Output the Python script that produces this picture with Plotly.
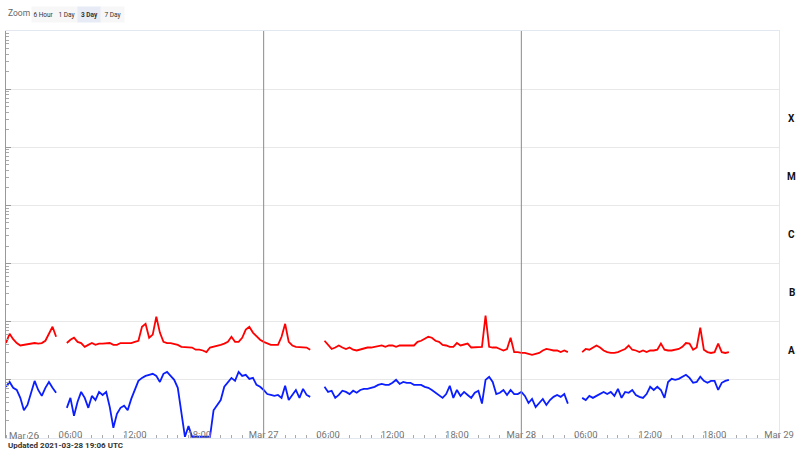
import pandas as pd
import plotly.graph_objects as go

# ---------------- data (flux in nW/m^2, 20-minute cadence per segment) ----------------
segment_starts = ["2021-03-26 00:00", "2021-03-26 05:40", "2021-03-27 05:40", "2021-03-28 05:40"]
cadence = "20min"

long_seg1 = [43, 62, 50, 43, 39, 40, 42, 43, 43, 42, 43, 47, 62, 82, 55]
long_seg2 = [43, 49, 53, 45, 43, 37, 40, 43, 40, 42, 42, 42, 43, 40, 40, 43, 43, 43, 43, 45,
             47, 82, 92, 53, 60, 122, 65, 45, 43, 43, 42, 40, 37, 37, 36, 36, 33, 33, 32, 30,
             36, 37, 39, 40, 42, 45, 55, 45, 45, 53, 73, 82, 65, 57, 49, 45, 43, 40, 40, 40,
             55, 92, 45, 39, 37, 37, 36, 36, 33]
long_seg3 = [47, 40, 34, 36, 39, 36, 34, 36, 33, 32, 33, 34, 36, 36, 37, 37, 39, 37, 39, 39,
             37, 39, 39, 40, 39, 39, 45, 47, 51, 55, 53, 47, 45, 40, 39, 37, 37, 43, 39, 40,
             42, 36, 36, 36, 37, 127, 37, 36, 36, 34, 32, 34, 53, 30, 30, 29, 29, 28, 27, 28,
             29, 32, 34, 33, 32, 32, 30, 32, 30]
long_seg4 = [30, 34, 33, 36, 39, 36, 32, 30, 29, 29, 30, 32, 34, 39, 33, 32, 30, 32, 30, 32,
             32, 33, 42, 33, 32, 32, 33, 34, 37, 43, 42, 33, 36, 79, 33, 30, 29, 30, 42, 30,
             29, 30]

short_seg1 = [7.6, 9.2, 7.3, 6.7, 4.9, 3.0, 3.7, 6.2, 9.6, 6.7, 5.3, 7.3, 9.2, 7.3, 6.0]
short_seg2 = [3.3, 4.9, 2.4, 4.2, 6.2, 4.9, 3.3, 5.3, 4.5, 6.2, 5.5, 6.2, 3.4, 1.5, 2.6, 3.3,
              3.6, 3.0, 4.7, 6.7, 9.6, 10.8, 11.7, 12.2, 12.7, 11.7, 9.2, 12.7, 13.7, 11.7,
              10.0, 7.3, 2.5, 1.05, 1.6, 1.05, 1.05, 1.05, 1.05, 1.05, 1.05, 3.0, 3.7, 4.5,
              7.6, 8.9, 10.8, 9.6, 13.7, 11.7, 12.2, 10.4, 10.8, 8.2, 7.6, 6.7, 5.7, 5.5, 5.3,
              5.5, 4.9, 7.9, 4.5, 5.5, 6.7, 4.9, 7.0, 5.5, 5.1]
short_seg3 = [7.6, 6.2, 6.5, 4.9, 5.5, 6.5, 6.2, 5.7, 6.5, 6.0, 6.7, 7.0, 7.0, 7.3, 7.6, 8.2,
              8.5, 8.2, 8.2, 8.9, 10.0, 8.5, 9.2, 8.9, 8.9, 8.2, 8.2, 8.2, 7.6, 7.3, 6.7, 6.0,
              5.3, 4.9, 5.7, 7.9, 4.9, 6.7, 5.3, 6.2, 5.5, 4.9, 6.0, 6.5, 3.9, 10.0, 11.3, 9.2,
              5.7, 6.0, 6.7, 5.5, 6.7, 5.7, 5.7, 6.2, 5.3, 4.0, 4.7, 3.4, 4.0, 4.7, 3.7, 4.5,
              5.1, 5.5, 5.1, 5.7, 3.9]
short_seg4 = [4.9, 4.5, 5.3, 4.9, 5.3, 5.7, 6.2, 5.7, 6.2, 5.3, 7.0, 4.9, 6.2, 6.0, 6.7, 5.5,
              5.1, 4.9, 5.7, 7.6, 6.7, 7.6, 6.7, 4.9, 9.2, 10.4, 10.0, 10.4, 11.3, 12.2, 10.8,
              8.9, 9.2, 11.3, 9.6, 8.9, 9.6, 9.6, 6.7, 8.9, 9.6, 10.0]

x_tick_times = ["2021-03-26 06:00", "2021-03-26 12:00", "2021-03-26 18:00",
                "2021-03-27 00:00", "2021-03-27 06:00", "2021-03-27 12:00", "2021-03-27 18:00",
                "2021-03-28 00:00", "2021-03-28 06:00", "2021-03-28 12:00", "2021-03-28 18:00",
                "2021-03-29 00:00"]
x_tick_labels = ["06:00", "12:00", "18:00", "Mar 27", "06:00", "12:00", "18:00",
                 "Mar 28", "06:00", "12:00", "18:00", "Mar 29"]
first_day_label = "Mar 26"
first_day = "2021-03-26 00:00"
day_boundaries = ["2021-03-27 00:00", "2021-03-28 00:00"]
x_range = ["2021-03-26 00:00", "2021-03-29 00:00"]

flare_classes = ["A", "B", "C", "M", "X"]
class_mid_log = [-7.5, -6.5, -5.5, -4.5, -3.5]

zoom_buttons = ["6 Hour", "1 Day", "3 Day", "7 Day"]
active_button = "3 Day"
updated_text = "Updated 2021-03-28 19:06 UTC"


def build(segments):
    xs, ys = [], []
    for start, vals in zip(segment_starts, segments):
        t = pd.date_range(start, periods=len(vals), freq=cadence)
        xs.extend(t.to_pydatetime())
        ys.extend(v * 1e-9 for v in vals)
        xs.append(t[-1].to_pydatetime() + pd.Timedelta("10min"))
        ys.append(None)
    return xs, ys


lx, ly = build([long_seg1, long_seg2, long_seg3, long_seg4])
sx, sy = build([short_seg1, short_seg2, short_seg3, short_seg4])

FONT = "Roboto, Arial, sans-serif"
W, H = 800, 450
ML, MR, MT, MB = 6, 17, 31, 12
PW, PH = W - ML - MR, H - MT - MB


def px(xpix):
    return (xpix - ML) / PW


def py(ypix):
    return (H - MB - ypix) / PH


fig = go.Figure()
fig.add_trace(go.Scatter(x=lx, y=ly, mode="lines", line=dict(color="#ff0000", width=1.8),
                         connectgaps=False, showlegend=False, hoverinfo="skip"))
fig.add_trace(go.Scatter(x=sx, y=sy, mode="lines", line=dict(color="#0a1eff", width=1.8),
                         connectgaps=False, showlegend=False, hoverinfo="skip"))
# invisible trace to carry the right border axis
fig.add_trace(go.Scatter(x=[x_range[0]], y=[1e-5], yaxis="y2", mode="markers",
                         marker=dict(opacity=0), showlegend=False, hoverinfo="skip"))

for d in day_boundaries:
    fig.add_vline(x=d, line=dict(color="#8a8a8a", width=1), layer="above")

annotations = []
for cls, ym in zip(flare_classes, class_mid_log):
    annotations.append(dict(xref="paper", yref="y", x=px(791), y=ym, text=f"<b>{cls}</b>",
                            showarrow=False, xanchor="center", yanchor="middle", xshift=5,
                            font=dict(family=FONT, size=10, color="#111")))
annotations.append(dict(xref="x", yref="paper", x=first_day, y=py(435), text=first_day_label,
                        showarrow=False, xanchor="left", yanchor="middle", xshift=1,
                        font=dict(family=FONT, size=9.5, color="#777")))
annotations.append(dict(xref="paper", yref="paper", x=px(6), y=py(445), text=f"<b>{updated_text}</b>",
                        showarrow=False, xanchor="left", yanchor="middle",
                        font=dict(family=FONT, size=8, color="#333")))
annotations.append(dict(xref="paper", yref="paper", x=px(6), y=py(13.5), text="Zoom",
                        showarrow=False, xanchor="left", yanchor="middle",
                        font=dict(family=FONT, size=8.5, color="#666")))
bx = 31
for b in zoom_buttons:
    active = b == active_button
    annotations.append(dict(xref="paper", yref="paper", x=px(bx), y=py(14.5),
                            text=f"<b>{b}</b>" if active else b,
                            showarrow=False, xanchor="left", yanchor="middle",
                            width=21, height=13, bgcolor="#e6ebf5" if active else "#f7f7f7",
                            font=dict(family=FONT, size=6.5, color="#333")))
    bx += 23

fig.update_layout(
    width=W, height=H,
    margin=dict(l=ML, r=MR, t=MT, b=MB),
    paper_bgcolor="white", plot_bgcolor="white",
    font=dict(family=FONT),
    annotations=annotations,
    xaxis=dict(type="date", range=x_range, tickvals=x_tick_times, ticktext=x_tick_labels,
               ticks="", ticklabelposition="inside", ticklabeloverflow="allow",
               ticklabelstandoff=-3,
               tickfont=dict(family=FONT, size=9.5, color="#777"),
               showgrid=False, zeroline=False, showline=True, linecolor="#e3e8f0",
               linewidth=1, mirror=True,
               minor=dict(dtick=3600000, ticks="inside", ticklen=3, tickcolor="#aaa",
                          showgrid=False)),
    yaxis=dict(type="log", range=[-9, -2], dtick=1, showticklabels=False,
               ticks="inside", ticklen=5, tickcolor="#999",
               showgrid=True, gridcolor="#e8e8e8", gridwidth=1, zeroline=False,
               showline=True, linecolor="#999", linewidth=1,
               minor=dict(ticks="inside", ticklen=3, tickcolor="#aaa", dtick="D1",
                          showgrid=False)),
    yaxis2=dict(type="log", range=[-9, -2], overlaying="y", side="right",
                showticklabels=False, ticks="", showgrid=False, zeroline=False,
                showline=True, linecolor="#e3e8f0", linewidth=1),
)

fig.write_html("out.html", post_script="document.body.style.margin='0';",
               config={"displayModeBar": False})
